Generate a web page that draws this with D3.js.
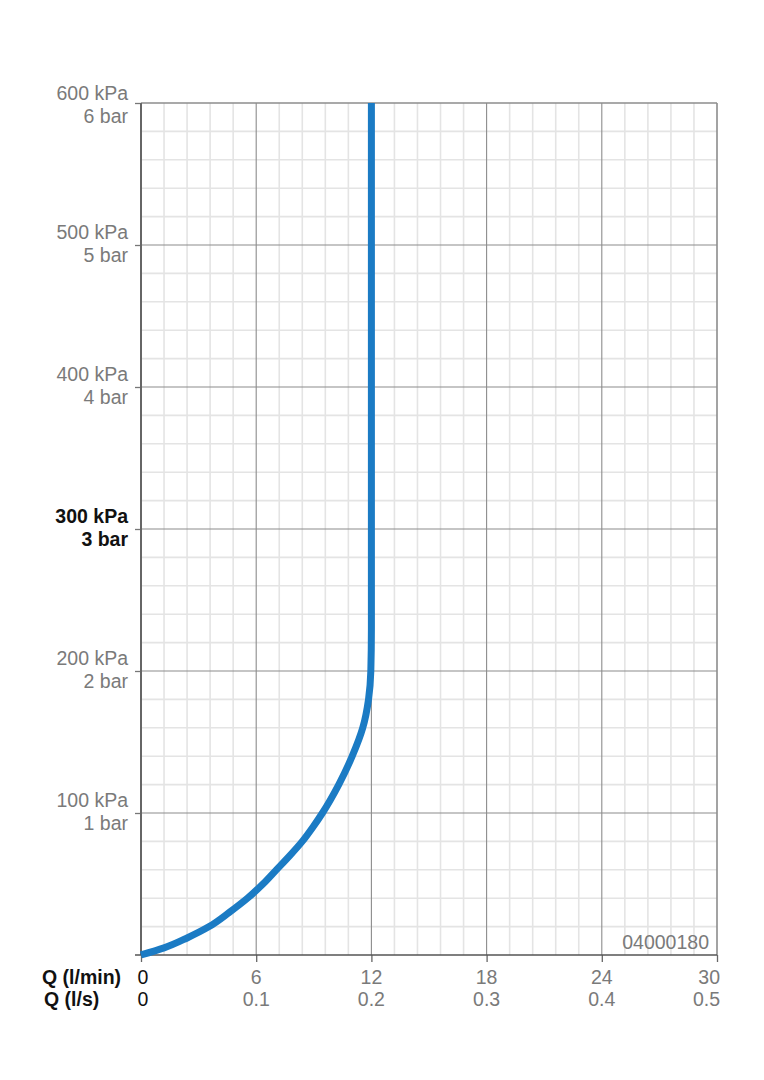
<!DOCTYPE html>
<html>
<head>
<meta charset="utf-8">
<script src="https://cdn.jsdelivr.net/npm/d3@7"></script>
<style>
  html, body { margin: 0; padding: 0; background: #fff; }
  svg { display: block; font-family: "Liberation Sans", Arial, Helvetica, sans-serif; }
</style>
</head>
<body>
<svg id="chart" width="764" height="1080"></svg>
<script>
// ---- data ----
const flowLpm     = [0, 1.2, 2.4, 3.55, 4.6, 5.55, 6.35, 7.05, 7.75, 8.4, 8.95, 9.45, 10.3, 11.0, 11.55, 11.85, 11.97, 12.0, 12.0, 12.0];
const pressureKpa = [0, 5,   12,  20,   30,  40,   50,   60,   70,   80,  90,   100,  120,  140,  160,   180,   200,   230,  300,  600];

const xTicksLpm   = [0, 6, 12, 18, 24, 30];
const xLabelsLpm  = ["0", "6", "12", "18", "24", "30"];
const xLabelsLps  = ["0", "0.1", "0.2", "0.3", "0.4", "0.5"];
const yTicksKpa   = [100, 200, 300, 400, 500, 600];
const yLabelsKpa  = ["100 kPa", "200 kPa", "300 kPa", "400 kPa", "500 kPa", "600 kPa"];
const yLabelsBar  = ["1 bar", "2 bar", "3 bar", "4 bar", "5 bar", "6 bar"];
const boldKpa     = 300;
const codeLabel   = "04000180";
const xTitle1 = "Q (l/min)", xTitle2 = "Q (l/s)";

// ---- layout ----
const L = 141, R = 717, T = 103, B = 955;
const FS = 19.5;
const grey = "#7a7a7a";
const svg = d3.select("#chart");

const x = d3.scaleLinear().domain([0, 30]).range([L, R]);
const y = d3.scaleLinear().domain([0, 600]).range([B, T]);

// minor grid
const minorX = d3.range(0, 30.001, 1.2).filter(v => Math.abs(v / 6 - Math.round(v / 6)) > 1e-6);
const minorY = d3.range(0, 600.001, 20).filter(v => v % 100 !== 0);
const g = svg.append("g");
g.selectAll("line.mx").data(minorX).join("line")
  .attr("x1", d => x(d)).attr("x2", d => x(d)).attr("y1", T).attr("y2", B)
  .attr("stroke", "#e4e4e4").attr("stroke-width", 1.6);
g.selectAll("line.my").data(minorY).join("line")
  .attr("y1", d => y(d)).attr("y2", d => y(d)).attr("x1", L).attr("x2", R)
  .attr("stroke", "#e4e4e4").attr("stroke-width", 1.6);

// major grid
g.selectAll("line.Mx").data(xTicksLpm.slice(1, -1)).join("line")
  .attr("x1", d => x(d)).attr("x2", d => x(d)).attr("y1", T).attr("y2", B)
  .attr("stroke", "#8c8c8c").attr("stroke-width", 1.1);
g.selectAll("line.My").data(yTicksKpa.slice(0, -1)).join("line")
  .attr("y1", d => y(d)).attr("y2", d => y(d)).attr("x1", L).attr("x2", R)
  .attr("stroke", "#8c8c8c").attr("stroke-width", 1.1);

// border top/right
svg.append("line").attr("x1", L).attr("x2", R).attr("y1", T).attr("y2", T)
  .attr("stroke", "#8c8c8c").attr("stroke-width", 1.6);
svg.append("line").attr("x1", R).attr("x2", R).attr("y1", T).attr("y2", B)
  .attr("stroke", "#8c8c8c").attr("stroke-width", 1.6);

// axes with d3
const yAxis = d3.axisLeft(y).tickValues(yTicksKpa).tickSize(6).tickFormat("");
const ya = svg.append("g").attr("transform", `translate(${L},0)`).call(yAxis);
ya.select(".domain").remove();
ya.selectAll(".tick line").attr("stroke", "#777").attr("stroke-width", 1.3);
svg.append("line").attr("x1", L).attr("x2", L).attr("y1", T).attr("y2", B)
  .attr("stroke", "#666").attr("stroke-width", 2);

const xAxis = d3.axisBottom(x).tickValues(xTicksLpm).tickSize(7).tickFormat("");
const xa = svg.append("g").attr("transform", `translate(0,${B})`).call(xAxis);
xa.select(".domain").remove();
xa.selectAll(".tick line").attr("stroke", "#666").attr("stroke-width", 1.3);
svg.append("line").attr("x1", L - 6).attr("x2", R).attr("y1", B).attr("y2", B)
  .attr("stroke", "#555").attr("stroke-width", 1.6);

// y labels
const yl = svg.append("g").attr("text-anchor", "end").attr("font-size", FS);
yTicksKpa.forEach((v, i) => {
  const bold = v === boldKpa;
  const top = v === 600;
  const t = yl.append("text").attr("x", 128)
    .attr("fill", bold ? "#111" : grey).attr("font-weight", bold ? "bold" : "normal");
  t.append("tspan").attr("x", 128).attr("y", y(v) + (top ? -3 : -6)).text(yLabelsKpa[i]);
  t.append("tspan").attr("x", 128).attr("y", y(v) + (top ? 19.5 : 16.5)).text(yLabelsBar[i]);
});

// x labels
const xl = svg.append("g").attr("font-size", FS);
xTicksLpm.forEach((v, i) => {
  const last = i === xTicksLpm.length - 1;
  const first = i === 0;
  const px = last ? 720 : (first ? x(v) + 2 : x(v));
  const anchor = last ? "end" : "middle";
  const col = first ? "#111" : grey;
  xl.append("text").attr("x", px).attr("y", 984).attr("text-anchor", anchor).attr("fill", col).text(xLabelsLpm[i]);
  xl.append("text").attr("x", px).attr("y", 1006).attr("text-anchor", anchor).attr("fill", col).text(xLabelsLps[i]);
});
xl.append("text").attr("x", 42).attr("y", 984).attr("font-weight", "bold").attr("fill", "#111").text(xTitle1);
xl.append("text").attr("x", 44).attr("y", 1006).attr("font-weight", "bold").attr("fill", "#111").text(xTitle2);

// code
svg.append("text").attr("x", 709).attr("y", 949).attr("text-anchor", "end")
  .attr("font-size", FS).attr("fill", grey).text(codeLabel);

// curve
const pts = flowLpm.map((q, i) => [q, pressureKpa[i]]);
const line = d3.line().x(d => x(d[0])).y(d => y(d[1])).curve(d3.curveMonotoneY);
svg.append("path").attr("d", line(pts)).attr("fill", "none")
  .attr("stroke", "#1b7bc4").attr("stroke-width", 7).attr("stroke-linecap", "butt");
</script>
</body>
</html>
